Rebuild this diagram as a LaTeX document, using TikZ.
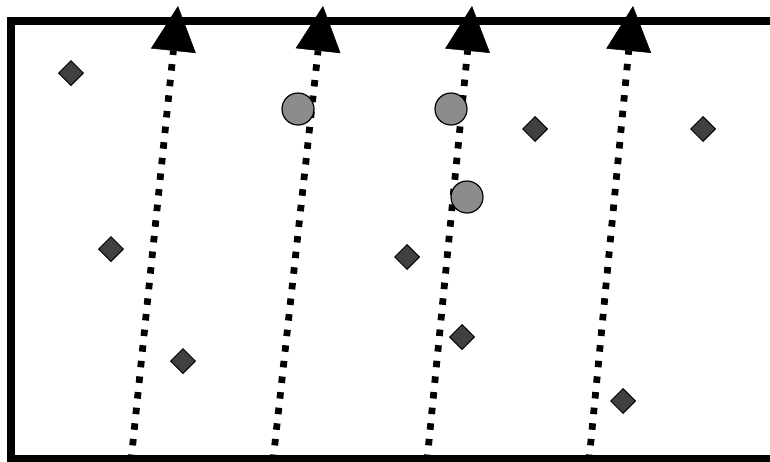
\documentclass[tikz,border=0pt]{standalone}
\usetikzlibrary{arrows.meta,shapes.geometric}
\definecolor{dotgray}{HTML}{8C8C8C}
\definecolor{diagray}{HTML}{404040}
\tikzset{
  frameline/.style={line width=7.5pt, line join=miter},
  flow/.style={line width=6.8pt, dash pattern=on 6.5pt off 9.2pt,
    -{Triangle[width=45pt,length=45pt,line width=0.5pt]}},
  blob/.style={circle, draw=black, line width=1.2pt, fill=dotgray, minimum size=32pt, inner sep=0pt},
  gem/.style={diamond, draw=black, line width=1pt, fill=diagray, minimum size=25pt, inner sep=0pt}
}
\begin{document}
\begin{tikzpicture}[x=1pt,y=-1pt]
\useasboundingbox (0,0) rectangle (770,461);
% frame
\coordinate (tr) at (775,21);
\coordinate (tl) at (11,21);
\coordinate (bl) at (11,459);
\coordinate (br) at (775,459);
\draw[frameline] (tr) -- (tl) -- (bl) -- (br);
% flows
\coordinate (a1) at (131,461);
\coordinate (b1) at (178,6);
\coordinate (a2) at (273,461);
\coordinate (b2) at (323,6);
\coordinate (a3) at (427,461);
\coordinate (b3) at (472,6);
\coordinate (a4) at (589,461);
\coordinate (b4) at (633,6);
\draw[flow] (a1) -- (b1);
\draw[flow] (a2) -- (b2);
\draw[flow] (a3) -- (b3);
\draw[flow] (a4) -- (b4);
% circles
\node[blob] (c1) at (298,109) {};
\node[blob] (c2) at (451,109) {};
\node[blob] (c3) at (467,197) {};
% diamonds
\node[gem] (d1) at (71,73) {};
\node[gem] (d2) at (111,249) {};
\node[gem] (d3) at (183,361) {};
\node[gem] (d4) at (535,129) {};
\node[gem] (d5) at (703,129) {};
\node[gem] (d6) at (407,257) {};
\node[gem] (d7) at (462,337) {};
\node[gem] (d8) at (623,401) {};
\end{tikzpicture}
\end{document}
